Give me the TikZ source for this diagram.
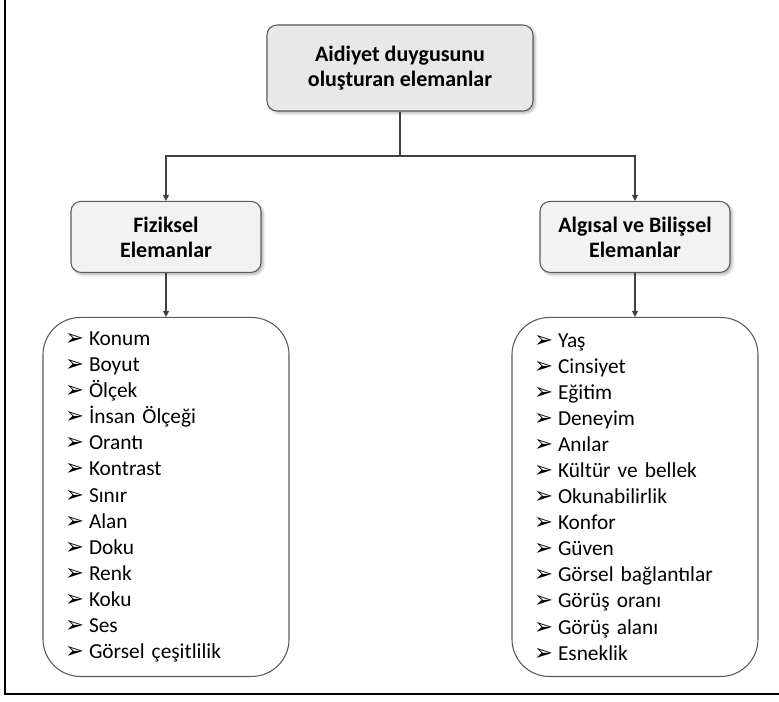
\documentclass[tikz,border=0pt]{standalone}
\usepackage{fontspec}
\setmainfont{Carlito}
\newfontfamily\bulletfont{DejaVu Sans}
\usepackage{xcolor}
\definecolor{headGray}{HTML}{E8E8E8}
\definecolor{subGray}{HTML}{F2F2F2}
\definecolor{edgeGray}{HTML}{5A5A5A}
\definecolor{lineGray}{HTML}{404040}
\usetikzlibrary{
    arrows.meta,
    shadows.blur,
    positioning
}
\newcommand{\arrowitem}[1]{\makebox[18pt][l]{\bulletfont\fontsize{17}{17}\selectfont\char"27A2}#1}
\tikzset{
    % Base style for the title boxes
    head base/.style={
        font=\fontsize{16.5}{18.75}\selectfont\bfseries,
        align=center,
        text=black,
        rectangle,
        rounded corners=7.5pt,
        draw=edgeGray,
        line width=0.8pt,
        blur shadow={
            shadow xshift=0.35ex,
            shadow yshift=-0.35ex,
            shadow blur steps=5,
            shadow opacity=30
        },
    },
    % Main box on top
    rootbox/.style={
        head base,
        fill=headGray,
        minimum width=199.5pt,
        minimum height=64.5pt,
    },
    % The two group boxes
    groupbox/.style={
        head base,
        fill=subGray,
        minimum width=142.5pt,
        minimum height=53.25pt,
    },
    % Boxes holding the item lists
    listbox/.style={
        rectangle,
        rounded corners=28pt,
        draw=edgeGray,
        line width=0.8pt,
        fill=white,
        font=\fontsize{16}{19.55}\selectfont,
        align=left,
        text width=151.5pt,
        inner xsep=16.5pt,
        minimum width=184.5pt,
        minimum height=269.25pt,
    },
    % Connector lines
    link/.style={
        draw=lineGray,
        line width=0.8pt,
    },
    arrow/.style={
        link,
        -{Triangle[length=4.5pt, width=4.5pt]},
    },
    % Outer frame
    frame/.style={
        draw=black,
        line width=1.5pt,
    },
}

\begin{document}
\begin{tikzpicture}[x=0.75pt, y=-0.75pt]
    \useasboundingbox (0,0) rectangle (779,702);
    \draw [frame] (5,0) -- (5,694) -- (779,694);

    \node (root) [rootbox] at (400,68) {Aidiyet duygusunu\\oluşturan elemanlar};
    \path (root.south) ++(0,44.5) coordinate (fork);
    \node (phys) [groupbox, below=67pt of root, xshift=-175.5pt] {Fiziksel\\Elemanlar};
    \node (perc) [groupbox, below=67pt of root, xshift=176.25pt] {Algısal ve Bilişsel\\Elemanlar};
    \node (physlist) [listbox, below=33pt of phys] {%
        \arrowitem{Konum}\\
        \arrowitem{Boyut}\\
        \arrowitem{Ölçek}\\
        \arrowitem{İnsan Ölçeği}\\
        \arrowitem{Orantı}\\
        \arrowitem{Kontrast}\\
        \arrowitem{Sınır}\\
        \arrowitem{Alan}\\
        \arrowitem{Doku}\\
        \arrowitem{Renk}\\
        \arrowitem{Koku}\\
        \arrowitem{Ses}\\
        \arrowitem{Görsel çeşitlilik}};
    \node (perclist) [listbox, below=33pt of perc] {%
        \arrowitem{Yaş}\\
        \arrowitem{Cinsiyet}\\
        \arrowitem{Eğitim}\\
        \arrowitem{Deneyim}\\
        \arrowitem{Anılar}\\
        \arrowitem{Kültür ve bellek}\\
        \arrowitem{Okunabilirlik}\\
        \arrowitem{Konfor}\\
        \arrowitem{Güven}\\
        \arrowitem{Görsel bağlantılar}\\
        \arrowitem{Görüş oranı}\\
        \arrowitem{Görüş alanı}\\
        \arrowitem{Esneklik}};

    \draw [link] (root) -- (fork);
    \draw [arrow] (fork) -| (phys);
    \draw [arrow] (fork) -| (perc);
    \draw [arrow] (phys) -- (physlist);
    \draw [arrow] (perc) -- (perclist);
\end{tikzpicture}
\end{document}
